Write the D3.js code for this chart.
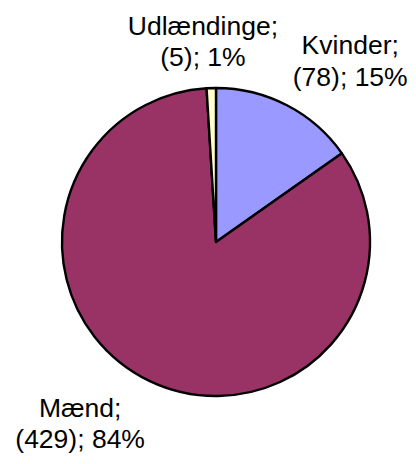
<!DOCTYPE html>
<html>
<head>
<meta charset="utf-8">
<script src="https://cdn.jsdelivr.net/npm/d3@7"></script>
<style>
  html, body { margin: 0; padding: 0; background: #fff; }
  svg { display: block; }
</style>
</head>
<body>
<svg id="chart"></svg>
<script>
// data
const categories = ["Kvinder", "Mænd", "Udlændinge"];
const counts = [78, 429, 5];
const percents = ["15%", "84%", "1%"];

const colors = ["#9999ff", "#993366", "#ffffcc"];

const width = 416,
  height = 464;
const cx = 216,
  cy = 242,
  radius = 154;

// where each label sits, as polar offset from pie centre (degrees, px)
const labelPolar = {
  Kvinder: [38, 218],
  Mænd: [215.5, 234],
  Udlændinge: [-3.9, 192]
};

const svg = d3.select("#chart").attr("width", width).attr("height", height);

const data = categories.map((c, i) => ({
  name: c,
  value: counts[i],
  pct: percents[i],
  color: colors[i]
}));

const pie = d3
  .pie()
  .sort(null)
  .value(d => d.value);

const arc = d3.arc().innerRadius(0).outerRadius(radius);

const g = svg.append("g").attr("transform", `translate(${cx},${cy})`);

g.selectAll("path.slice")
  .data(pie(data))
  .enter()
  .append("path")
  .attr("class", "slice")
  .attr("d", arc)
  .attr("fill", d => d.data.color)
  .attr("stroke", "#000")
  .attr("stroke-width", 2.4)
  .attr("stroke-linejoin", "round");

const labels = g
  .selectAll("text.lbl")
  .data(pie(data))
  .enter()
  .append("text")
  .attr("class", "lbl")
  .attr("font-family", "'Liberation Sans', Arial, sans-serif")
  .attr("font-size", 26.5)
  .attr("fill", "#000")
  .attr("text-anchor", "middle")
  .attr("transform", d => {
    const [deg, r] = labelPolar[d.data.name];
    const a = (deg * Math.PI) / 180;
    return `translate(${r * Math.sin(a)},${-r * Math.cos(a)})`;
  });

labels
  .append("tspan")
  .attr("x", 0)
  .attr("dy", "-0.6em")
  .text(d => d.data.name + ";");

labels
  .append("tspan")
  .attr("x", 0)
  .attr("dy", "1.2em")
  .text(d => `(${d.data.value}); ${d.data.pct}`);
</script>
</body>
</html>
